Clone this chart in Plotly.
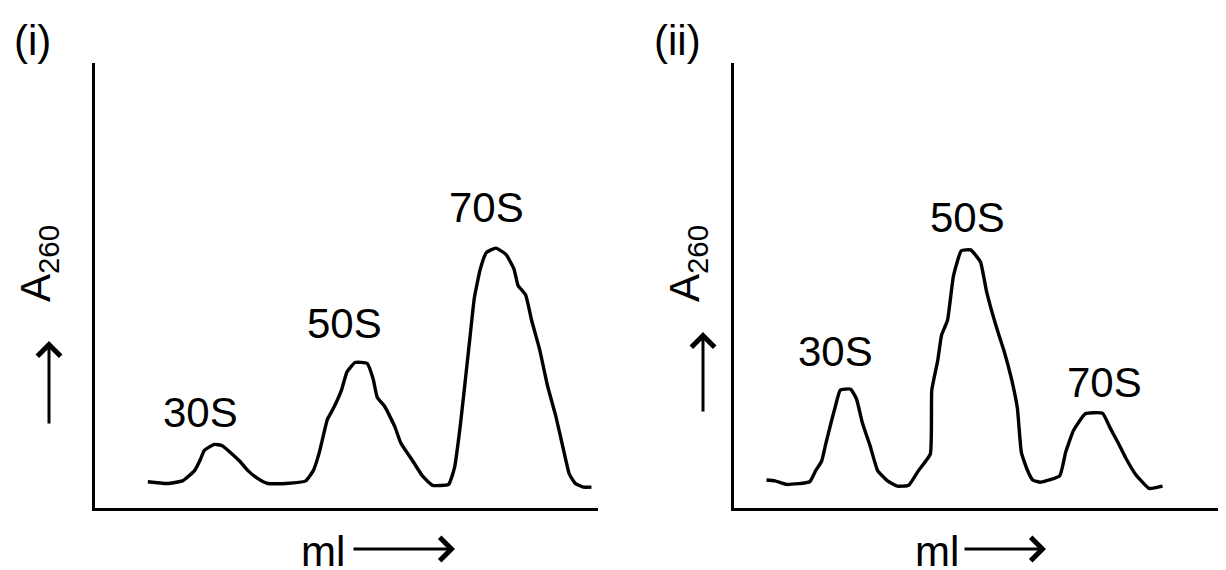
import plotly.graph_objects as go

# ---------------- data ----------------
# Panel (i): sucrose-gradient profile, x = elution volume (ml, arbitrary units), y = A260 (arbitrary units)
ml_i = [10.5, 14.3, 17.4, 19.8, 20.95, 21.7, 23.7, 25.3, 27.3, 28.8, 30.4, 32.4, 34.4, 37.9,
        41.9, 43.4, 44.6, 46.2, 47.4, 49.0, 50.1, 51.7, 54.1, 55.3, 56.1, 57.6, 59.6, 60.8,
        63.2, 65.1, 67.1, 70.3, 71.5, 72.6, 73.8, 74.6, 75.4, 76.6, 77.8, 79.7, 81.7, 83.3,
        84.1, 85.6, 86.8, 88.4, 90.0, 91.6, 93.1, 94.3, 95.5, 97.1, 98.7]
a260_i = [0.059, 0.055, 0.061, 0.084, 0.109, 0.129, 0.143, 0.140, 0.121, 0.105, 0.084, 0.066,
          0.055, 0.055, 0.061, 0.084, 0.125, 0.199, 0.224, 0.265, 0.306, 0.327, 0.325, 0.290,
          0.249, 0.228, 0.183, 0.146, 0.105, 0.072, 0.051, 0.053, 0.092, 0.183, 0.306, 0.389,
          0.471, 0.537, 0.574, 0.584, 0.570, 0.537, 0.500, 0.479, 0.422, 0.356, 0.273, 0.207,
          0.133, 0.076, 0.055, 0.047, 0.047]

# Panel (ii)
ml_ii = [6.6, 8.3, 10.7, 15.4, 16.6, 17.8, 18.6, 19.8, 20.5, 21.6, 23.7, 24.9, 26.1, 27.6,
         29.2, 31.2, 33.2, 35.5, 37.5, 39.9, 40.2, 41.4, 42.2, 43.4, 44.6, 46.2, 48.1, 50.1,
         51.3, 52.5, 53.6, 54.8, 56.4, 57.6, 58.4, 59.6, 60.7, 62.3, 66.2, 67.4, 69.0, 71.4,
         74.9, 76.5, 78.1, 79.6, 81.6, 84.4, 87.1]
a260_ii = [0.063, 0.061, 0.053, 0.059, 0.084, 0.105, 0.142, 0.195, 0.224, 0.265, 0.267, 0.245,
           0.191, 0.142, 0.084, 0.061, 0.049, 0.051, 0.084, 0.121, 0.265, 0.331, 0.389, 0.422,
           0.521, 0.578, 0.580, 0.553, 0.488, 0.438, 0.397, 0.356, 0.290, 0.224, 0.125, 0.086,
           0.063, 0.058, 0.072, 0.125, 0.174, 0.212, 0.213, 0.179, 0.146, 0.113, 0.076, 0.044,
           0.049]

# peak labels: (text, ml, A260)
peaks_i = [("30S", 20.9, 0.215), ("50S", 49.7, 0.415), ("70S", 77.9, 0.675)]
peaks_ii = [("30S", 20.7, 0.352), ("50S", 47.5, 0.652), ("70S", 75.3, 0.282)]

panel_labels = ["(i)", "(ii)"]
y_label = "A<sub>260</sub>"
x_label = "ml"

# ---------------- figure ----------------
# The page body has an 8px default margin; the figure is sized so that it
# fills the 1226x570 window exactly from that offset.
OFF = 8
W, H = 1226 - OFF, 570 - OFF
FONT = "Liberation Sans, Arial, sans-serif"
FS = 42


def px(x):
    return (x - OFF) / W


def py(y):
    return 1 - (y - OFF) / H


line_style = dict(color="black", width=3.4, shape="spline", smoothing=0.4)
fig = go.Figure()
fig.add_trace(go.Scatter(x=ml_i, y=a260_i, mode="lines", xaxis="x", yaxis="y",
                         line=line_style, showlegend=False, hoverinfo="skip"))
fig.add_trace(go.Scatter(x=ml_ii, y=a260_ii, mode="lines", xaxis="x2", yaxis="y2",
                         line=line_style, showlegend=False, hoverinfo="skip"))

ax_common = dict(showline=True, linecolor="black", linewidth=3.2, showgrid=False,
                 zeroline=False, showticklabels=False, ticks="", fixedrange=True)

ydom = [py(508), py(63)]
fig.update_layout(
    width=W, height=H,
    margin=dict(l=0, r=0, t=0, b=0),
    paper_bgcolor="white", plot_bgcolor="white",
    font=dict(family=FONT, color="black", size=FS),
    xaxis=dict(domain=[px(95), px(598)], range=[0, 100], anchor="y", **ax_common),
    yaxis=dict(domain=ydom, range=[0, 1], anchor="x", **ax_common),
    xaxis2=dict(domain=[px(734), 1.0], range=[0, 100], anchor="y2", **ax_common),
    yaxis2=dict(domain=ydom, range=[0, 1], anchor="x2", **ax_common),
)

ann = []
# peak labels
for (t, x, y) in peaks_i:
    ann.append(dict(text=t, x=x, y=y, xref="x", yref="y", showarrow=False,
                    xanchor="center", yanchor="middle", font=dict(size=FS)))
for (t, x, y) in peaks_ii:
    ann.append(dict(text=t, x=x, y=y, xref="x2", yref="y2", showarrow=False,
                    xanchor="center", yanchor="middle", font=dict(size=FS)))

# panel labels
ann.append(dict(text=panel_labels[0], x=px(32), y=py(40), xref="paper", yref="paper",
                showarrow=False, xanchor="center", yanchor="middle", font=dict(size=FS)))
ann.append(dict(text=panel_labels[1], x=px(677), y=py(40), xref="paper", yref="paper",
                showarrow=False, xanchor="center", yanchor="middle", font=dict(size=FS)))

# y labels + up arrows, x labels + right arrows
for (ylx, arx, tip, tail, mlx, arl, arr) in [(38, 49, 341, 425, 323, 352, 455),
                                              (687, 703, 332, 413, 937, 963, 1046)]:
    ann.append(dict(text=y_label, x=px(ylx), y=py(264), xref="paper", yref="paper",
                    showarrow=False, textangle=-90, xanchor="center", yanchor="middle",
                    font=dict(size=FS)))
    ann.append(dict(text="", x=px(arx), y=py(tip), xref="paper", yref="paper",
                    showarrow=True, ax=0, ay=tail - tip, arrowhead=4, arrowsize=1.5,
                    arrowwidth=3, arrowcolor="black"))
    ann.append(dict(text=x_label, x=px(mlx), y=py(551), xref="paper", yref="paper",
                    showarrow=False, xanchor="center", yanchor="middle", font=dict(size=FS)))
    ann.append(dict(text="", x=px(arr), y=py(549), xref="paper", yref="paper",
                    showarrow=True, ax=-(arr - arl), ay=0, arrowhead=4, arrowsize=1.5,
                    arrowwidth=3, arrowcolor="black"))

fig.update_layout(annotations=ann)
fig.write_html("out.html")
